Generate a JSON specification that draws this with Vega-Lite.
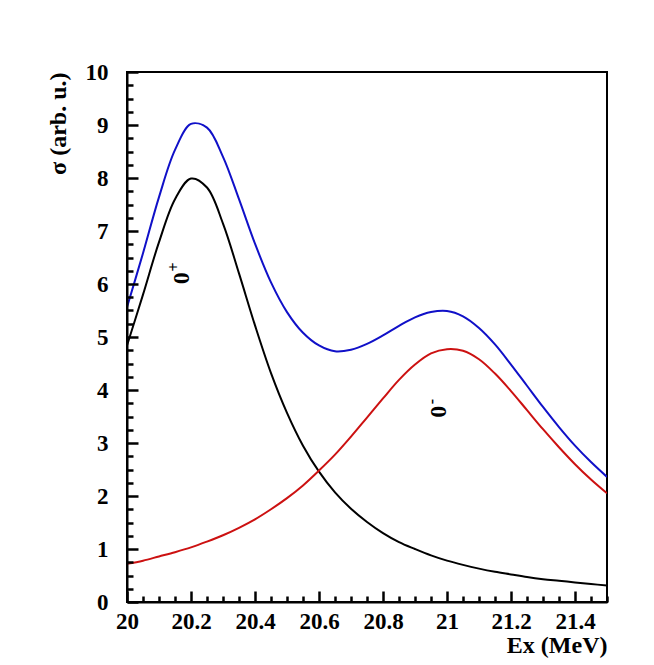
{
  "$schema": "https://vega.github.io/schema/vega-lite/v6.json",
  "width": 480,
  "height": 530,
  "autosize": "none",
  "padding": {"left": 127, "top": 72, "right": 47, "bottom": 63},
  "background": "white",
  "config": {
    "view": {"stroke": "black", "strokeWidth": 2},
    "axis": {
      "grid": false,
      "ticks": true,
      "domain": true,
      "domainColor": "black",
      "domainWidth": 2,
      "tickColor": "#000000",
      "tickWidth": 2.5,
      "tickOpacity": 1,
      "labelColor": "black",
      "labelFont": "Liberation Serif",
      "labelFontWeight": "bold",
      "labelFontSize": 23,
      "titleColor": "black",
      "titleFont": "Liberation Serif",
      "titleFontWeight": "bold",
      "titleFontSize": 24
    }
  },
  "datasets": {
    "curves": [
      {"x": 20.00, "y": 4.84, "s": "0+"}, {"x": 20.05, "y": 5.80, "s": "0+"}, {"x": 20.10, "y": 6.79, "s": "0+"}, {"x": 20.15, "y": 7.60, "s": "0+"}, {"x": 20.20, "y": 7.99, "s": "0+"}, {"x": 20.25, "y": 7.82, "s": "0+"}, {"x": 20.30, "y": 7.14, "s": "0+"}, {"x": 20.35, "y": 6.20, "s": "0+"}, {"x": 20.40, "y": 5.22, "s": "0+"}, {"x": 20.45, "y": 4.32, "s": "0+"}, {"x": 20.50, "y": 3.57, "s": "0+"}, {"x": 20.55, "y": 2.95, "s": "0+"}, {"x": 20.60, "y": 2.46, "s": "0+"}, {"x": 20.65, "y": 2.07, "s": "0+"}, {"x": 20.70, "y": 1.76, "s": "0+"}, {"x": 20.75, "y": 1.51, "s": "0+"}, {"x": 20.80, "y": 1.30, "s": "0+"}, {"x": 20.85, "y": 1.13, "s": "0+"}, {"x": 20.90, "y": 1.00, "s": "0+"}, {"x": 20.95, "y": 0.88, "s": "0+"}, {"x": 21.00, "y": 0.78, "s": "0+"}, {"x": 21.05, "y": 0.70, "s": "0+"}, {"x": 21.10, "y": 0.63, "s": "0+"}, {"x": 21.15, "y": 0.57, "s": "0+"}, {"x": 21.20, "y": 0.52, "s": "0+"}, {"x": 21.25, "y": 0.47, "s": "0+"}, {"x": 21.30, "y": 0.43, "s": "0+"}, {"x": 21.35, "y": 0.40, "s": "0+"}, {"x": 21.40, "y": 0.37, "s": "0+"}, {"x": 21.45, "y": 0.34, "s": "0+"}, {"x": 21.50, "y": 0.31, "s": "0+"},
      {"x": 20.00, "y": 0.72, "s": "0-"}, {"x": 20.05, "y": 0.78, "s": "0-"}, {"x": 20.10, "y": 0.86, "s": "0-"}, {"x": 20.15, "y": 0.94, "s": "0-"}, {"x": 20.20, "y": 1.03, "s": "0-"}, {"x": 20.25, "y": 1.14, "s": "0-"}, {"x": 20.30, "y": 1.26, "s": "0-"}, {"x": 20.35, "y": 1.40, "s": "0-"}, {"x": 20.40, "y": 1.56, "s": "0-"}, {"x": 20.45, "y": 1.75, "s": "0-"}, {"x": 20.50, "y": 1.96, "s": "0-"}, {"x": 20.55, "y": 2.20, "s": "0-"}, {"x": 20.60, "y": 2.48, "s": "0-"}, {"x": 20.65, "y": 2.78, "s": "0-"}, {"x": 20.70, "y": 3.12, "s": "0-"}, {"x": 20.75, "y": 3.48, "s": "0-"}, {"x": 20.80, "y": 3.84, "s": "0-"}, {"x": 20.85, "y": 4.19, "s": "0-"}, {"x": 20.90, "y": 4.48, "s": "0-"}, {"x": 20.95, "y": 4.69, "s": "0-"}, {"x": 21.00, "y": 4.77, "s": "0-"}, {"x": 21.05, "y": 4.74, "s": "0-"}, {"x": 21.10, "y": 4.58, "s": "0-"}, {"x": 21.15, "y": 4.31, "s": "0-"}, {"x": 21.20, "y": 3.98, "s": "0-"}, {"x": 21.25, "y": 3.62, "s": "0-"}, {"x": 21.30, "y": 3.26, "s": "0-"}, {"x": 21.35, "y": 2.92, "s": "0-"}, {"x": 21.40, "y": 2.60, "s": "0-"}, {"x": 21.45, "y": 2.31, "s": "0-"}, {"x": 21.50, "y": 2.05, "s": "0-"},
      {"x": 20.00, "y": 5.56, "s": "sum"}, {"x": 20.05, "y": 6.58, "s": "sum"}, {"x": 20.10, "y": 7.64, "s": "sum"}, {"x": 20.15, "y": 8.53, "s": "sum"}, {"x": 20.20, "y": 9.02, "s": "sum"}, {"x": 20.25, "y": 8.95, "s": "sum"}, {"x": 20.30, "y": 8.40, "s": "sum"}, {"x": 20.35, "y": 7.60, "s": "sum"}, {"x": 20.40, "y": 6.76, "s": "sum"}, {"x": 20.45, "y": 6.03, "s": "sum"}, {"x": 20.50, "y": 5.47, "s": "sum"}, {"x": 20.55, "y": 5.08, "s": "sum"}, {"x": 20.60, "y": 4.84, "s": "sum"}, {"x": 20.65, "y": 4.73, "s": "sum"}, {"x": 20.70, "y": 4.76, "s": "sum"}, {"x": 20.75, "y": 4.87, "s": "sum"}, {"x": 20.80, "y": 5.03, "s": "sum"}, {"x": 20.85, "y": 5.21, "s": "sum"}, {"x": 20.90, "y": 5.37, "s": "sum"}, {"x": 20.95, "y": 5.47, "s": "sum"}, {"x": 21.00, "y": 5.49, "s": "sum"}, {"x": 21.05, "y": 5.39, "s": "sum"}, {"x": 21.10, "y": 5.17, "s": "sum"}, {"x": 21.15, "y": 4.86, "s": "sum"}, {"x": 21.20, "y": 4.48, "s": "sum"}, {"x": 21.25, "y": 4.08, "s": "sum"}, {"x": 21.30, "y": 3.68, "s": "sum"}, {"x": 21.35, "y": 3.30, "s": "sum"}, {"x": 21.40, "y": 2.95, "s": "sum"}, {"x": 21.45, "y": 2.64, "s": "sum"}, {"x": 21.50, "y": 2.36, "s": "sum"}
    ],
    "zeros": [
      {"x": 20.172, "y": 6.11, "t": "0"},
      {"x": 20.975, "y": 3.59, "t": "0"}
    ],
    "sups": [
      {"x": 20.147, "y": 6.32, "t": "+"},
      {"x": 20.952, "y": 3.78, "t": "-"}
    ]
  },
  "encoding": {
    "x": {
      "field": "x", "type": "quantitative",
      "scale": {"domain": [20, 21.5], "nice": false, "zero": false},
      "axis": {
        "values": [20, 20.05, 20.1, 20.15, 20.2, 20.25, 20.3, 20.35, 20.4, 20.45, 20.5, 20.55, 20.6, 20.65, 20.7, 20.75, 20.8, 20.85, 20.9, 20.95, 21, 21.05, 21.1, 21.15, 21.2, 21.25, 21.3, 21.35, 21.4, 21.45, 21.5],
        "labelExpr": "abs(datum.value*5 - round(datum.value*5)) < 0.001 ? format(datum.value, '~g') : ''",
        "ticks": true,
        "tickSize": {"condition": {"test": "abs(datum.value*5 - round(datum.value*5)) < 0.001", "value": -11}, "value": -6},
        "labelPadding": 19,
        "labelFlush": false,
        "labelOverlap": false,
        "zindex": 1,
        "title": "Ex (MeV)",
        "titleAlign": "right",
        "titleBaseline": "alphabetic",
        "titleX": 480,
        "titleY": 50
      }
    },
    "y": {
      "field": "y", "type": "quantitative",
      "scale": {"domain": [0, 10], "nice": false, "zero": true},
      "axis": {
        "values": [0, 0.25, 0.5, 0.75, 1, 1.25, 1.5, 1.75, 2, 2.25, 2.5, 2.75, 3, 3.25, 3.5, 3.75, 4, 4.25, 4.5, 4.75, 5, 5.25, 5.5, 5.75, 6, 6.25, 6.5, 6.75, 7, 7.25, 7.5, 7.75, 8, 8.25, 8.5, 8.75, 9, 9.25, 9.5, 9.75, 10],
        "labelExpr": "datum.value == round(datum.value) ? format(datum.value, 'd') : ''",
        "ticks": true,
        "tickSize": {"condition": {"test": "datum.value == round(datum.value)", "value": -11}, "value": -6},
        "labelPadding": 30,
        "labelFlush": false,
        "labelOverlap": false,
        "zindex": 1,
        "title": "σ (arb. u.)",
        "titleAngle": 270,
        "titleAlign": "right",
        "titleBaseline": "middle",
        "titleX": -69,
        "titleY": 0
      }
    }
  },
  "layer": [
    {
      "data": {"name": "curves"},
      "mark": {"type": "line", "strokeWidth": 2, "interpolate": "catmull-rom", "clip": true},
      "encoding": {
        "color": {
          "field": "s", "type": "nominal",
          "scale": {"domain": ["0+", "0-", "sum"], "range": ["#000000", "#cc1111", "#1010c8"]},
          "legend": null
        }
      }
    },
    {
      "data": {"name": "zeros"},
      "mark": {"type": "text", "angle": 270, "align": "center", "baseline": "middle", "font": "Liberation Serif", "fontWeight": "bold", "fontSize": 24, "color": "black"},
      "encoding": {"text": {"field": "t"}}
    },
    {
      "data": {"name": "sups"},
      "mark": {"type": "text", "angle": 270, "align": "center", "baseline": "middle", "font": "Liberation Serif", "fontWeight": "bold", "fontSize": 16, "color": "black"},
      "encoding": {"text": {"field": "t"}}
    }
  ]
}
